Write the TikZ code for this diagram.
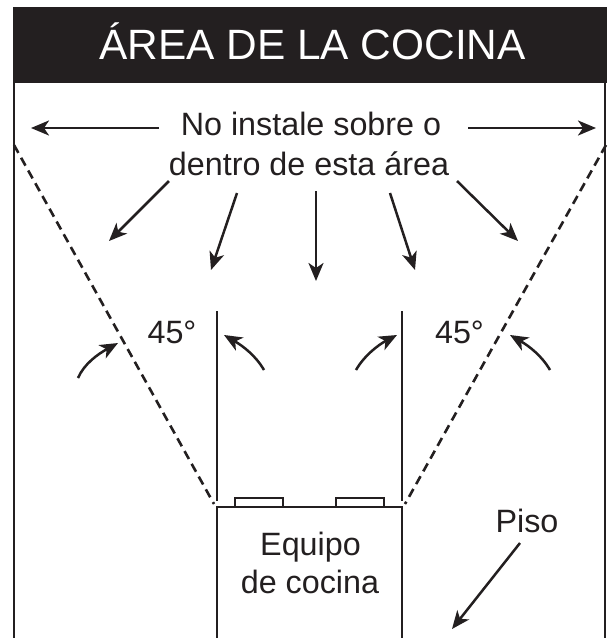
\documentclass[tikz,border=0pt]{standalone}
\usepackage{fontspec}
\setmainfont{Liberation Sans}
\usetikzlibrary{arrows.meta}
\definecolor{ink}{HTML}{231F20}
\tikzset{
  x=1pt,y=-1pt,
  line/.style={draw=ink,line width=2.6pt},
  dashline/.style={draw=ink,line width=2.6pt,dash pattern=on 9pt off 5.6pt},
  pointer/.style={draw=ink,line width=2.5pt,-{Stealth[length=18pt,width=15pt,inset=5pt]}},
  label/.style={text=ink,inner sep=0pt,font=\fontsize{32.3}{40}\selectfont,align=center,anchor=base},
}
\begin{document}
\begin{tikzpicture}
\useasboundingbox[fill=white] (0,0) rectangle (609,638);
% frame
\coordinate (fl) at (14,82); \coordinate (flb) at (14,638);
\coordinate (fr) at (605,82); \coordinate (frb) at (605,638);
\fill[ink] (12.5,6.5) rectangle (606.5,82.5);
\draw[line] (fl) -- (flb);
\draw[line] (fr) -- (frb);
\node[label,text=white,font=\fontsize{42.4}{50}\selectfont] (title) at (312.5,59) {ÁREA DE LA COCINA};
% equipment
\draw[line] (217,638) |- (402,507) -- (402,638);
\draw[line,line width=2.3pt] (235,506) |- (283,498) -- (283,506);
\draw[line,line width=2.3pt] (336,506) |- (384,498) -- (384,506);
% verticals
\coordinate (vlt) at (217,311); \coordinate (vlb) at (217,501);
\coordinate (vrt) at (402,311); \coordinate (vrb) at (402,501);
\draw[line] (vlt) -- (vlb);
\draw[line] (vrt) -- (vrb);
% dashed
\coordinate (dlt) at (14,145); \coordinate (dlb) at (214,504);
\coordinate (drt) at (606,145); \coordinate (drb) at (405,504);
\draw[dashline] (dlt) -- (dlb);
\draw[dashline] (drt) -- (drb);
% texts
\node[label] (warn1) at (311,135) {No instale sobre o};
\node[label] (warn2) at (309,175) {dentro de esta área};
\node[label] (ang1) at (172,343) {45°};
\node[label] (ang2) at (459.5,343) {45°};
\node[label] (eq1) at (310.5,555) {Equipo};
\node[label] (eq2) at (310,593) {de cocina};
\node[label] (piso) at (527,532) {Piso};
% pointers
\coordinate (a1s) at (159,128); \coordinate (a1e) at (31,128);
\coordinate (a2s) at (468,128); \coordinate (a2e) at (596,128);
\coordinate (a3s) at (169,181); \coordinate (a3e) at (109,241);
\coordinate (a4s) at (237,193); \coordinate (a4e) at (211,270);
\coordinate (a5s) at (316,191); \coordinate (a5e) at (316,281);
\coordinate (a6s) at (390,193); \coordinate (a6e) at (415,270);
\coordinate (a7s) at (457,181); \coordinate (a7e) at (518,241);
\coordinate (a8s) at (520,543); \coordinate (a8e) at (452,629);
\foreach \n in {1,...,8} \draw[pointer] (a\n s) -- (a\n e);
% curved pointers
\coordinate (c1s) at (78,378); \coordinate (c1e) at (118,343);
\coordinate (c2s) at (264,370); \coordinate (c2e) at (224,335);
\coordinate (c3s) at (356,370); \coordinate (c3e) at (397,335);
\coordinate (c4s) at (550,370); \coordinate (c4e) at (510,335);
\draw[pointer] (c1s) .. controls (84,364) and (98,354) .. (c1e);
\draw[pointer] (c2s) .. controls (256,356) and (243,346) .. (c2e);
\draw[pointer] (c3s) .. controls (364,356) and (378,345) .. (c3e);
\draw[pointer] (c4s) .. controls (542,356) and (529,346) .. (c4e);
\end{tikzpicture}
\end{document}
